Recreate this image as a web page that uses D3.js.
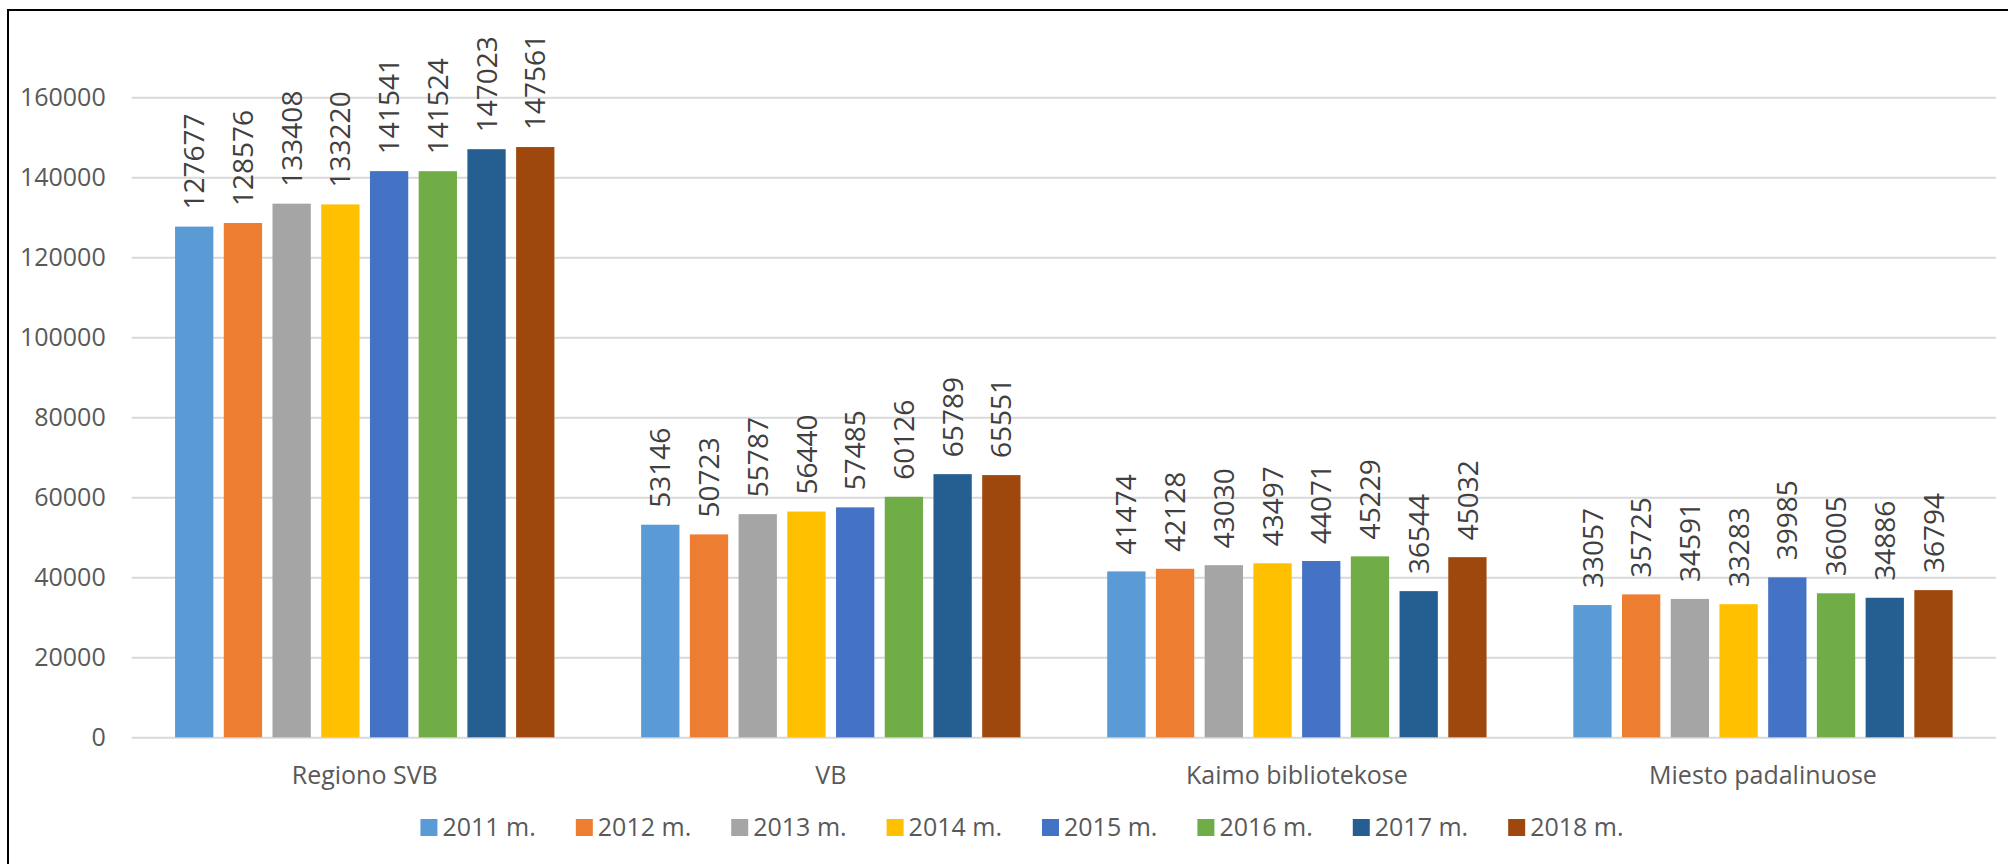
<!DOCTYPE html>
<html>
<head>
<meta charset="utf-8">
<script src="https://cdn.jsdelivr.net/npm/d3@7"></script>
<style>
  body { margin: 0; background: #fff; }
  svg { display: block; font-family: 'Open Sans', sans-serif; }
</style>
</head>
<body>
<div id="chart"></div>
<script>
const width = 2008;
const height = 864;

const categories = ['Regiono SVB', 'VB', 'Kaimo bibliotekose', 'Miesto padalinuose'];
const years = ['2011 m.', '2012 m.', '2013 m.', '2014 m.', '2015 m.', '2016 m.', '2017 m.', '2018 m.'];
const colors = ['#5B9BD5', '#ED7D31', '#A5A5A5', '#FFC000', '#4472C4', '#70AD47', '#255E91', '#9E480E'];
const yTicks = [0, 20000, 40000, 60000, 80000, 100000, 120000, 140000, 160000];

// one array per category, values by year
const regionoSVB = [127677, 128576, 133408, 133220, 141541, 141524, 147023, 147561];
const vb = [53146, 50723, 55787, 56440, 57485, 60126, 65789, 65551];
const kaimo = [41474, 42128, 43030, 43497, 44071, 45229, 36544, 45032];
const miesto = [33057, 35725, 34591, 33283, 39985, 36005, 34886, 36794];
const values = [regionoSVB, vb, kaimo, miesto];

const plotLeft = 131.7;
const plotRight = 1996;
const plotTop = 97.3;
const plotBottom = 737.3;

const svg = d3.select('#chart').append('svg')
  .attr('width', width)
  .attr('height', height);

// chart frame (runs off the right and bottom edges)
svg.append('rect')
  .attr('x', 8)
  .attr('y', 10)
  .attr('width', 2100)
  .attr('height', 900)
  .attr('fill', 'none')
  .attr('stroke', '#000')
  .attr('stroke-width', 2);

const x0 = d3.scaleBand()
  .domain(categories)
  .range([plotLeft, plotRight]);

const x1 = d3.scaleBand()
  .domain(years)
  .range([0, x0.bandwidth()])
  .paddingInner(0.214)
  .paddingOuter(0.89);

const y = d3.scaleLinear()
  .domain([0, 160000])
  .range([plotBottom, plotTop]);

const color = d3.scaleOrdinal().domain(years).range(colors);

// y axis with gridlines
const yAxis = svg.append('g')
  .attr('transform', `translate(${plotLeft},0)`)
  .call(d3.axisLeft(y)
    .tickValues(yTicks)
    .tickFormat(d3.format('d'))
    .tickSize(-(plotRight - plotLeft))
    .tickPadding(26));

yAxis.select('.domain').remove();
yAxis.selectAll('.tick line')
  .attr('stroke', '#d9d9d9')
  .attr('stroke-width', 2);
yAxis.selectAll('.tick text')
  .attr('fill', '#595959')
  .style('font-size', '25px')
  .style('font-family', "'Open Sans', sans-serif");

// category axis
const xAxis = svg.append('g')
  .attr('transform', `translate(0,${plotBottom})`)
  .call(d3.axisBottom(x0).tickSize(0));

xAxis.select('.domain').remove();
xAxis.selectAll('.tick text')
  .attr('y', 47)
  .attr('dy', 0)
  .attr('fill', '#595959')
  .style('font-size', '25px')
  .style('font-family', "'Open Sans', sans-serif");

// bars
const rows = categories.map((c, i) => ({
  category: c,
  items: years.map((yr, j) => ({ year: yr, value: values[i][j] }))
}));

const groups = svg.append('g')
  .selectAll('g')
  .data(rows)
  .join('g')
  .attr('transform', d => `translate(${x0(d.category)},0)`);

groups.selectAll('rect')
  .data(d => d.items)
  .join('rect')
  .attr('x', d => x1(d.year))
  .attr('y', d => y(d.value))
  .attr('width', x1.bandwidth())
  .attr('height', d => y(0) - y(d.value))
  .attr('fill', d => color(d.year));

// rotated value labels
groups.selectAll('text')
  .data(d => d.items)
  .join('text')
  .attr('transform', d => `translate(${x1(d.year) + x1.bandwidth() / 2},${y(d.value) - 17}) rotate(-90)`)
  .attr('dy', '0.36em')
  .attr('text-anchor', 'start')
  .attr('fill', '#404040')
  .style('font-size', '28px')
  .text(d => d.value);

// legend
const legend = svg.append('g');
const legendItems = legend.selectAll('g')
  .data(years)
  .join('g');

legendItems.append('rect')
  .attr('width', 17)
  .attr('height', 17)
  .attr('y', -8.5)
  .attr('fill', d => color(d));

legendItems.append('text')
  .attr('x', 22)
  .attr('dy', '0.35em')
  .attr('fill', '#595959')
  .style('font-size', '25px')
  .text(d => d);

let offset = 0;
legendItems.each(function () {
  const g = d3.select(this);
  const w = 22 + g.select('text').node().getComputedTextLength();
  g.attr('transform', `translate(${offset},0)`);
  offset += w + 40;
});
const legendWidth = offset - 40;
legend.attr('transform', `translate(${1022 - legendWidth / 2},827.5)`);
</script>
</body>
</html>
